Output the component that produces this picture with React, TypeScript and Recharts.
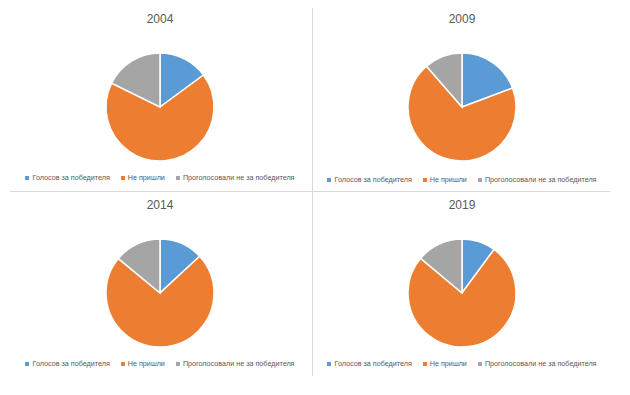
import { PieChart, Pie, Cell, Legend } from 'recharts';

const categories = ['Голосов за победителя', 'Не пришли', 'Проголосовали не за победителя'];
const years = ['2004', '2009', '2014', '2019'];
const shares2004 = [14.9, 67.4, 17.7];
const shares2009 = [19.3, 69.3, 11.4];
const shares2014 = [13.1, 72.9, 14.0];
const shares2019 = [10.1, 76.0, 13.9];

const COLORS = ['#5B9BD5', '#ED7D31', '#A5A5A5'];
const TEXT = '#595959';
const GRID = '#D9D9D9';
const FONT = '"Liberation Sans", Arial, sans-serif';

// chart box per panel: left/top of a 300x185 PieChart
const PANELS = [
  { left: 10, top: 5, legendTop: 168 },
  { left: 312, top: 5, legendTop: 170 },
  { left: 10, top: 191, legendTop: 168 },
  { left: 312, top: 191, legendTop: 168 },
];

function LegendRow(props: { payload?: { value: string; color: string }[] }) {
  const items = props.payload ?? [];
  return (
    <div style={{ display: 'flex', justifyContent: 'center', gap: 11, fontFamily: FONT, fontSize: 7.2, color: TEXT }}>
      {items.map(it => (
        <div key={it.value} style={{ display: 'flex', alignItems: 'center', whiteSpace: 'nowrap', color: TEXT }}>
          <span style={{ width: 4, height: 4, background: it.color, marginRight: 3, display: 'inline-block' }} />
          <span style={{ color: TEXT }}>{it.value}</span>
        </div>
      ))}
    </div>
  );
}

function YearPie({ year, values, panel }: { year: string; values: number[]; panel: typeof PANELS[number] }) {
  const data = categories.map((name, i) => ({ name, value: values[i] }));
  return (
    <div style={{ position: 'absolute', left: panel.left, top: panel.top, width: 300, height: 185 }}>
      <div style={{ position: 'absolute', left: 0, top: 7, width: 300, textAlign: 'center', fontFamily: FONT, fontSize: 12, color: TEXT }}>
        {year}
      </div>
      <PieChart width={300} height={185} margin={{ top: 0, right: 0, bottom: 0, left: 0 }}>
        <Pie
          data={data}
          dataKey="value"
          nameKey="name"
          cx={150}
          cy={102}
          outerRadius={54}
          startAngle={90}
          endAngle={-270}
          stroke="#fff"
          strokeWidth={1.5}
          isAnimationActive={false}
        >
          {data.map((d, i) => (
            <Cell key={d.name} fill={COLORS[i]} />
          ))}
        </Pie>
        <Legend
          content={LegendRow as never}
          wrapperStyle={{ top: panel.legendTop, left: 0, width: 300, height: 12 }}
        />
      </PieChart>
    </div>
  );
}

export default function App() {
  const all = [shares2004, shares2009, shares2014, shares2019];
  return (
    <div style={{ position: 'absolute', left: 0, top: 0, width: 630, height: 395, background: '#fff', overflow: 'hidden' }}>
      <div style={{ position: 'absolute', left: 312, top: 8, width: 1, height: 368, background: GRID }} />
      <div style={{ position: 'absolute', left: 10, top: 191, width: 600, height: 1, background: GRID }} />
      {years.map((y, i) => (
        <YearPie key={y} year={y} values={all[i]} panel={PANELS[i]} />
      ))}
    </div>
  );
}
